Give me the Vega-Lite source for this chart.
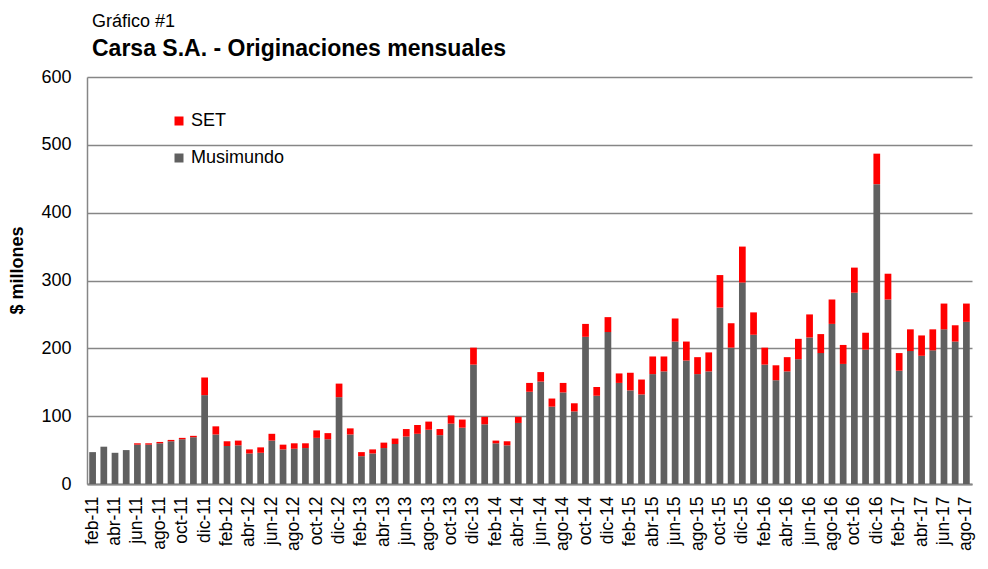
{
  "$schema": "https://vega.github.io/schema/vega-lite/v6.json",
  "autosize": {"type": "none"},
  "padding": {"left": 87, "top": 77, "right": 16, "bottom": 85},
  "width": 885,
  "height": 407,
  "background": "white",
  "config": {
    "font": "Liberation Sans",
    "view": {"stroke": null}
  },
  "title": {
    "text": "Gráfico #1",
    "subtitle": "Carsa S.A. - Originaciones mensuales",
    "anchor": "start",
    "frame": "group",
    "font": "Liberation Sans",
    "fontSize": 18,
    "fontWeight": "normal",
    "color": "#000000",
    "subtitleFont": "Liberation Sans",
    "subtitleFontSize": 23,
    "subtitleFontWeight": "bold",
    "subtitleColor": "#000000",
    "subtitlePadding": 7,
    "offset": 7,
    "dx": 5
  },
  "data": {
    "values": [
      {"mes": "feb-11", "Musimundo": 47, "SET": 0},
      {"mes": "mar-11", "Musimundo": 55, "SET": 0},
      {"mes": "abr-11", "Musimundo": 46, "SET": 0},
      {"mes": "may-11", "Musimundo": 50, "SET": 0},
      {"mes": "jun-11", "Musimundo": 58, "SET": 2},
      {"mes": "jul-11", "Musimundo": 58, "SET": 2},
      {"mes": "ago-11", "Musimundo": 60, "SET": 2},
      {"mes": "sep-11", "Musimundo": 63, "SET": 2},
      {"mes": "oct-11", "Musimundo": 66, "SET": 2},
      {"mes": "nov-11", "Musimundo": 69, "SET": 2},
      {"mes": "dic-11", "Musimundo": 131, "SET": 26},
      {"mes": "ene-12", "Musimundo": 73, "SET": 12},
      {"mes": "feb-12", "Musimundo": 56, "SET": 7},
      {"mes": "mar-12", "Musimundo": 57, "SET": 7},
      {"mes": "abr-12", "Musimundo": 45, "SET": 6},
      {"mes": "may-12", "Musimundo": 46, "SET": 8},
      {"mes": "jun-12", "Musimundo": 64, "SET": 10},
      {"mes": "jul-12", "Musimundo": 51, "SET": 7},
      {"mes": "ago-12", "Musimundo": 52, "SET": 8},
      {"mes": "sep-12", "Musimundo": 53, "SET": 7},
      {"mes": "oct-12", "Musimundo": 68, "SET": 11},
      {"mes": "nov-12", "Musimundo": 66, "SET": 9},
      {"mes": "dic-12", "Musimundo": 128, "SET": 20},
      {"mes": "ene-13", "Musimundo": 73, "SET": 9},
      {"mes": "feb-13", "Musimundo": 41, "SET": 6},
      {"mes": "mar-13", "Musimundo": 45, "SET": 6},
      {"mes": "abr-13", "Musimundo": 53, "SET": 8},
      {"mes": "may-13", "Musimundo": 59, "SET": 8},
      {"mes": "jun-13", "Musimundo": 70, "SET": 11},
      {"mes": "jul-13", "Musimundo": 74, "SET": 13},
      {"mes": "ago-13", "Musimundo": 80, "SET": 12},
      {"mes": "sep-13", "Musimundo": 72, "SET": 9},
      {"mes": "oct-13", "Musimundo": 89, "SET": 12},
      {"mes": "nov-13", "Musimundo": 83, "SET": 12},
      {"mes": "dic-13", "Musimundo": 176, "SET": 25},
      {"mes": "ene-14", "Musimundo": 88, "SET": 11},
      {"mes": "feb-14", "Musimundo": 60, "SET": 4},
      {"mes": "mar-14", "Musimundo": 57, "SET": 6},
      {"mes": "abr-14", "Musimundo": 90, "SET": 9},
      {"mes": "may-14", "Musimundo": 136, "SET": 13},
      {"mes": "jun-14", "Musimundo": 151, "SET": 14},
      {"mes": "jul-14", "Musimundo": 114, "SET": 12},
      {"mes": "ago-14", "Musimundo": 135, "SET": 14},
      {"mes": "sep-14", "Musimundo": 107, "SET": 12},
      {"mes": "oct-14", "Musimundo": 217, "SET": 19},
      {"mes": "nov-14", "Musimundo": 130, "SET": 13},
      {"mes": "dic-14", "Musimundo": 224, "SET": 22},
      {"mes": "ene-15", "Musimundo": 149, "SET": 14},
      {"mes": "feb-15", "Musimundo": 138, "SET": 26},
      {"mes": "mar-15", "Musimundo": 132, "SET": 22},
      {"mes": "abr-15", "Musimundo": 162, "SET": 26},
      {"mes": "may-15", "Musimundo": 166, "SET": 22},
      {"mes": "jun-15", "Musimundo": 210, "SET": 34},
      {"mes": "jul-15", "Musimundo": 182, "SET": 28},
      {"mes": "ago-15", "Musimundo": 162, "SET": 25},
      {"mes": "sep-15", "Musimundo": 166, "SET": 28},
      {"mes": "oct-15", "Musimundo": 260, "SET": 48},
      {"mes": "nov-15", "Musimundo": 201, "SET": 36},
      {"mes": "dic-15", "Musimundo": 297, "SET": 53},
      {"mes": "ene-16", "Musimundo": 220, "SET": 33},
      {"mes": "feb-16", "Musimundo": 176, "SET": 25},
      {"mes": "mar-16", "Musimundo": 153, "SET": 22},
      {"mes": "abr-16", "Musimundo": 166, "SET": 21},
      {"mes": "may-16", "Musimundo": 184, "SET": 30},
      {"mes": "jun-16", "Musimundo": 216, "SET": 34},
      {"mes": "jul-16", "Musimundo": 193, "SET": 28},
      {"mes": "ago-16", "Musimundo": 236, "SET": 36},
      {"mes": "sep-16", "Musimundo": 177, "SET": 28},
      {"mes": "oct-16", "Musimundo": 282, "SET": 37},
      {"mes": "nov-16", "Musimundo": 198, "SET": 25},
      {"mes": "dic-16", "Musimundo": 442, "SET": 45},
      {"mes": "ene-17", "Musimundo": 272, "SET": 38},
      {"mes": "feb-17", "Musimundo": 167, "SET": 26},
      {"mes": "mar-17", "Musimundo": 196, "SET": 32},
      {"mes": "abr-17", "Musimundo": 189, "SET": 30},
      {"mes": "may-17", "Musimundo": 197, "SET": 31},
      {"mes": "jun-17", "Musimundo": 228, "SET": 38},
      {"mes": "jul-17", "Musimundo": 210, "SET": 24},
      {"mes": "ago-17", "Musimundo": 239, "SET": 27}
    ]
  },
  "transform": [
    {"fold": ["Musimundo", "SET"], "as": ["serie", "valor"]}
  ],
  "mark": {"type": "bar"},
  "encoding": {
    "x": {
      "field": "mes",
      "type": "nominal",
      "sort": null,
      "scale": {"paddingInner": 0.4, "paddingOuter": 0.2},
      "axis": {
        "title": null,
        "values": ["feb-11","abr-11","jun-11","ago-11","oct-11","dic-11","feb-12","abr-12","jun-12","ago-12","oct-12","dic-12","feb-13","abr-13","jun-13","ago-13","oct-13","dic-13","feb-14","abr-14","jun-14","ago-14","oct-14","dic-14","feb-15","abr-15","jun-15","ago-15","oct-15","dic-15","feb-16","abr-16","jun-16","ago-16","oct-16","dic-16","feb-17","abr-17","jun-17","ago-17"],
        "labelAngle": -90,
        "labelFontSize": 17.5,
        "labelColor": "#000000",
        "labelPadding": 12,
        "labelFont": "Liberation Sans",
        "ticks": false,
        "domainColor": "#868686",
        "domainWidth": 2,
        "grid": false
      }
    },
    "y": {
      "field": "valor",
      "type": "quantitative",
      "stack": "zero",
      "scale": {"domain": [0, 600], "nice": false},
      "axis": {
        "title": "$ millones",
        "titleFontSize": 18,
        "titleFontWeight": "bold",
        "titleColor": "#000000",
        "titleFont": "Liberation Sans",
        "titleX": -61,
        "titleY": 193,
        "titleBaseline": "bottom",
        "values": [0, 100, 200, 300, 400, 500, 600],
        "labelFontSize": 18,
        "labelColor": "#000000",
        "labelPadding": 16,
        "labelFont": "Liberation Sans",
        "ticks": false,
        "domainColor": "#868686",
        "domainWidth": 1.5,
        "grid": true,
        "gridColor": "#868686",
        "gridWidth": 1.5
      }
    },
    "color": {
      "field": "serie",
      "type": "nominal",
      "scale": {"domain": ["SET", "Musimundo"], "range": ["#ff0000", "#606060"]},
      "legend": {
        "title": null,
        "orient": "none",
        "legendX": 83,
        "legendY": 35,
        "symbolType": "square",
        "symbolSize": 81,
        "symbolStrokeWidth": 0,
        "labelFontSize": 18,
        "labelColor": "#000000",
        "labelFont": "Liberation Sans",
        "labelOffset": 3,
        "rowPadding": 19
      }
    },
    "order": {"field": "serie", "sort": "ascending"}
  }
}
